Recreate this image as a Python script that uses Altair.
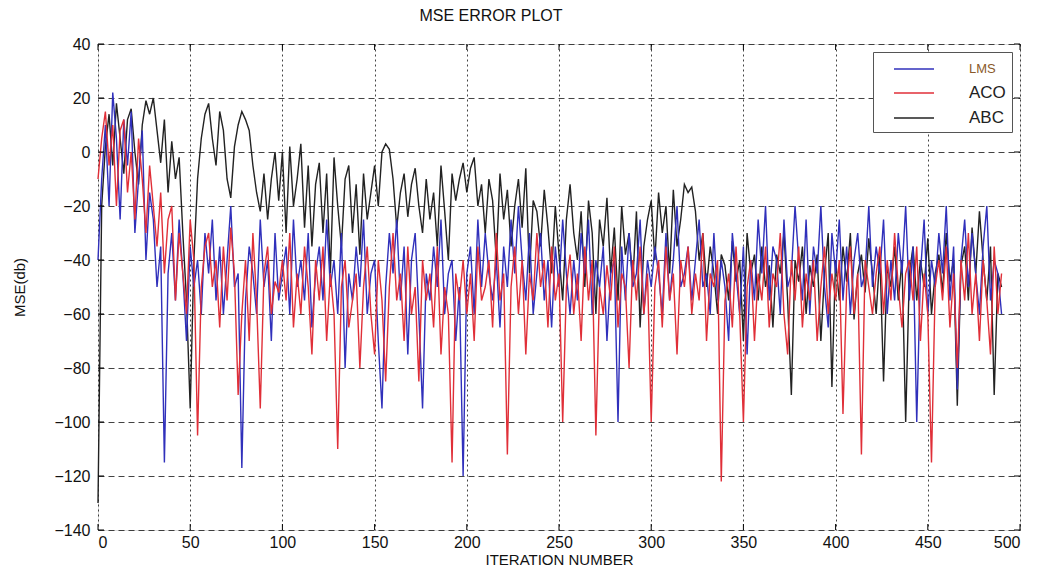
import altair as alt
import pandas as pd

# ---------------- data ----------------
iterations = list(range(0, 491, 2))

# LMS (blue)
lms_mse = [
    -40, -10, 10, -20, 22, 5, -25, 12, -5, 15,
    -30, -10, 8, -40, -15, -25, -50, -35, -115, -45,
    -30, -55, -25, -45, -70, -35, -50, -40, -60, -30,
    -45, -25, -55, -35, -60, -40, -20, -50, -45, -117,
    -55, -35, -45, -60, -25, -50, -40, -70, -30, -55,
    -45, -35, -60, -25, -50, -40, -55, -30, -65, -45,
    -35, -55, -25, -50, -40, -60, -30, -80, -45, -55,
    -35, -50, -25, -60, -45, -40, -70, -95, -50, -30,
    -45, -25, -55, -35, -75, -40, -30, -60, -95, -45,
    -55, -35, -50, -25, -60, -45, -40, -70, -50, -120,
    -45, -35, -60, -25, -50, -30, -45, -55, -40, -65,
    -35, -50, -25, -45, -20, -40, -55, -30, -60, -45,
    -30, -55, -40, -65, -35, -50, -25, -45, -60, -40,
    -55, -30, -45, -25, -60, -40, -50, -35, -70, -45,
    -40, -100, -35, -55, -30, -50, -45, -25, -60, -40,
    -50, -35, -45, -60, -30, -55, -40, -20, -50, -45,
    -35, -55, -40, -25, -50, -45, -60, -30, -55, -40,
    -50, -70, -30, -45, -60, -35, -75, -40, -55, -25,
    -45, -20, -55, -35, -40, -60, -25, -50, -45, -20,
    -40, -55, -25, -60, -35, -45, -20, -50, -65, -30,
    -45, -25, -55, -35, -60, -40, -30, -50, -45, -20,
    -50, -35, -45, -25, -60, -40, -55, -30, -45, -20,
    -55, -35, -100, -45, -25, -60, -40, -50, -30, -45,
    -20, -55, -35, -88, -40, -25, -50, -30, -45, -60,
    -35, -20, -55, -40, -45, -60,
]

# ACO (red)
aco_mse = [
    -10, 5, 15, -5, 10, -20, 8, 12, -15, 0,
    -25, 5, -10, -30, -5, -20, -35, -15, -45, -25,
    -20, -55, -30, -45, -60, -25, -40, -105, -50, -35,
    -30, -50, -40, -65, -35, -55, -28, -45, -90, -60,
    -40, -70, -30, -55, -95, -45, -35, -60, -48, -52,
    -40, -55, -30, -65, -45, -60, -35, -50, -75, -40,
    -55, -35, -70, -45, -60, -110, -50, -40, -65, -55,
    -45, -80, -50, -35, -60, -75, -40, -55, -85, -50,
    -30, -55, -45, -70, -35, -60, -50, -85, -40, -55,
    -45, -65, -35, -75, -50, -60, -115, -45, -55, -40,
    -60, -45, -70, -35, -55, -50, -40, -65, -30, -55,
    -45, -112, -50, -35, -60, -40, -75, -45, -55, -30,
    -50, -40, -65, -35, -55, -45, -100, -50, -38, -60,
    -45, -70, -35, -55, -40, -105, -50, -60, -42, -55,
    -35, -65, -45, -50, -80, -40, -55, -35, -60, -45,
    -100, -50, -40, -65, -35, -55, -45, -75, -40, -50,
    -35, -60, -45, -55, -30, -70, -45, -50, -40, -122,
    -55, -45, -65, -35, -60, -100, -50, -40, -70, -45,
    -55, -35, -65, -45, -50, -30, -60, -75, -40, -55,
    -35, -65, -45, -55, -40, -70, -50, -35, -60, -45,
    -55, -40, -97, -50, -35, -60, -45, -112, -40, -50,
    -60, -45, -35, -60, -40, -55, -30, -50, -65, -45,
    -40, -55, -35, -70, -45, -60, -115, -50, -40, -55,
    -35, -65, -45, -80, -40, -55, -30, -60, -45, -70,
    -40, -55, -75, -35, -60, -45,
]

# ABC (black)
abc_mse = [
    -130, -20, 2, 14, -5, 18, 5, -8, 12, 16,
    0, -12, 10, 19, 14, 20, 8, -4, 12, -15,
    4, -10, -2, -30, -55, -95, -40, -10, 5, 14,
    18, 5, -5, 15, 8, -10, -17, 2, 10, 15,
    12, 8, -5, -15, -22, -8, -25, -10, 0, -18,
    0, -30, 2, -20, -10, 3, -28, -5, -35, -12,
    -4, -30, -8, -45, -2, -20, -35, -10, -5, -30,
    -12, -38, -8, -25, -15, -5, -20, 0, 3, 1,
    -10, -28, -15, -8, -24, -12, -6, -20, -30, -10,
    -25, -15, -35, -5, -22, -40, -8, -18, -10, -4,
    -15, -6, -2, -20, -12, -30, -10, -18, -40, -8,
    -25, -14, -35, -20, -10, -28, -6, -45, -18, -22,
    -35, -14, -28, -45, -20, -38, -55, -25, -12, -30,
    -40, -22, -50, -18, -30, -60, -25, -35, -17, -45,
    -28, -55, -20, -38, -30, -48, -22, -65, -35, -25,
    -18, -40, -15, -30, -20, -45, -14, -35, -25, -12,
    -15, -13, -22, -40, -30, -50, -35, -45, -60, -38,
    -42, -55, -33, -48, -40, -70, -30, -45, -38, -55,
    -35, -50, -42, -65, -38, -45, -30, -55, -90, -40,
    -48, -35, -60, -42, -50, -38, -70, -45, -30, -87,
    -40, -55, -35, -48, -30, -62, -45, -38, -52, -32,
    -45, -60, -38, -85, -42, -50, -35, -55, -40, -100,
    -45, -35, -55, -40, -50, -32, -60, -45, -38, -52,
    -30, -48, -40, -94, -42, -35, -55, -28, -45, -22,
    -40, -55, -35, -90, -45, -50,
]

series_names = ["LMS", "ACO", "ABC"]
series_colors = ["#3030bb", "#e02f38", "#222222"]
x_ticks = list(range(0, 501, 50))
y_ticks = list(range(-140, 41, 20))

rows = []
for name, vals in zip(series_names, [lms_mse, aco_mse, abc_mse]):
    for it, v in zip(iterations, vals):
        rows.append({"iteration": it, "mse": v, "series": name})
df = pd.DataFrame(rows)

FONT = "Liberation Sans Narrow, Liberation Sans, Arial, sans-serif"
W, H = 922, 486

x_enc = alt.X(
    "iteration:Q",
    scale=alt.Scale(domain=[0, 500], nice=False, zero=False),
    axis=alt.Axis(
        values=x_ticks, title="ITERATION NUMBER", grid=True, gridDash=[2, 3],
        gridColor="#222", gridOpacity=0.85, ticks=False, domain=False,
        labelFont=FONT, labelFontSize=16, labelColor="#111", labelPadding=4,
        titleFont=FONT, titleFontSize=15, titleFontWeight="normal",
        titleColor="#111", titlePadding=2,
    ),
)
y_enc = alt.Y(
    "mse:Q",
    scale=alt.Scale(domain=[-140, 40], nice=False, zero=False),
    axis=alt.Axis(
        values=y_ticks, title="MSE(db)", grid=True, gridDash=[6, 4],
        gridColor="#222", gridOpacity=0.85, ticks=False, domain=False,
        labelFont=FONT, labelFontSize=16, labelColor="#111", labelPadding=8,
        titleFont=FONT, titleFontSize=15, titleFontWeight="normal",
        titleColor="#111", titlePadding=26,
    ),
)
color_enc = alt.Color(
    "series:N",
    scale=alt.Scale(domain=series_names, range=series_colors),
    legend=alt.Legend(
        title=None, orient="top-right", offset=8, padding=6,
        fillColor="white", strokeColor="#555",
        symbolType="M-2,0H2", symbolSize=400, symbolStrokeWidth=1.3,
        symbolOffset=24,
        labelFont=FONT, labelOffset=44,
        labelFontSize=alt.ExprRef("datum.label === 'LMS' ? 13 : 17"),
        labelColor=alt.ExprRef("datum.label === 'LMS' ? '#8a5a2a' : '#222'"),
        rowPadding=6,
    ),
)


def series_layer(name, width):
    return (
        alt.Chart(df)
        .transform_filter(alt.datum.series == name)
        .mark_line(strokeWidth=width)
        .encode(x=x_enc, y=y_enc, color=color_enc)
    )


xt = pd.DataFrame({"iteration": x_ticks})
yt = pd.DataFrame({"mse": y_ticks})
tick_bottom = alt.Chart(xt).mark_rule(color="black").encode(
    x=x_enc, y=alt.value(H), y2=alt.value(H - 6))
tick_top = alt.Chart(xt).mark_rule(color="black").encode(
    x=x_enc, y=alt.value(0), y2=alt.value(6))
tick_left = alt.Chart(yt).mark_rule(color="black").encode(
    y=y_enc, x=alt.value(0), x2=alt.value(6))
tick_right = alt.Chart(yt).mark_rule(color="black").encode(
    y=y_enc, x=alt.value(W), x2=alt.value(W - 6))

chart = (
    alt.layer(
        series_layer("ABC", 1.4),
        series_layer("LMS", 1.4),
        series_layer("ACO", 1.4),
        tick_bottom, tick_top, tick_left, tick_right,
    )
    .properties(
        width=W, height=H,
        autosize=alt.AutoSizeParams(type="none"),
        padding={"left": 90, "top": 36, "right": 15, "bottom": 42},
        title=alt.TitleParams(
            "MSE ERROR PLOT", font=FONT, fontSize=16, fontWeight="normal",
            color="#111", anchor="middle", dx=-68, offset=12,
        ),
    )
    .configure_view(stroke="black", strokeWidth=1.2)
    .configure(background="white")
)

chart.save("out.html", embed_options={"renderer": "svg", "actions": False})
